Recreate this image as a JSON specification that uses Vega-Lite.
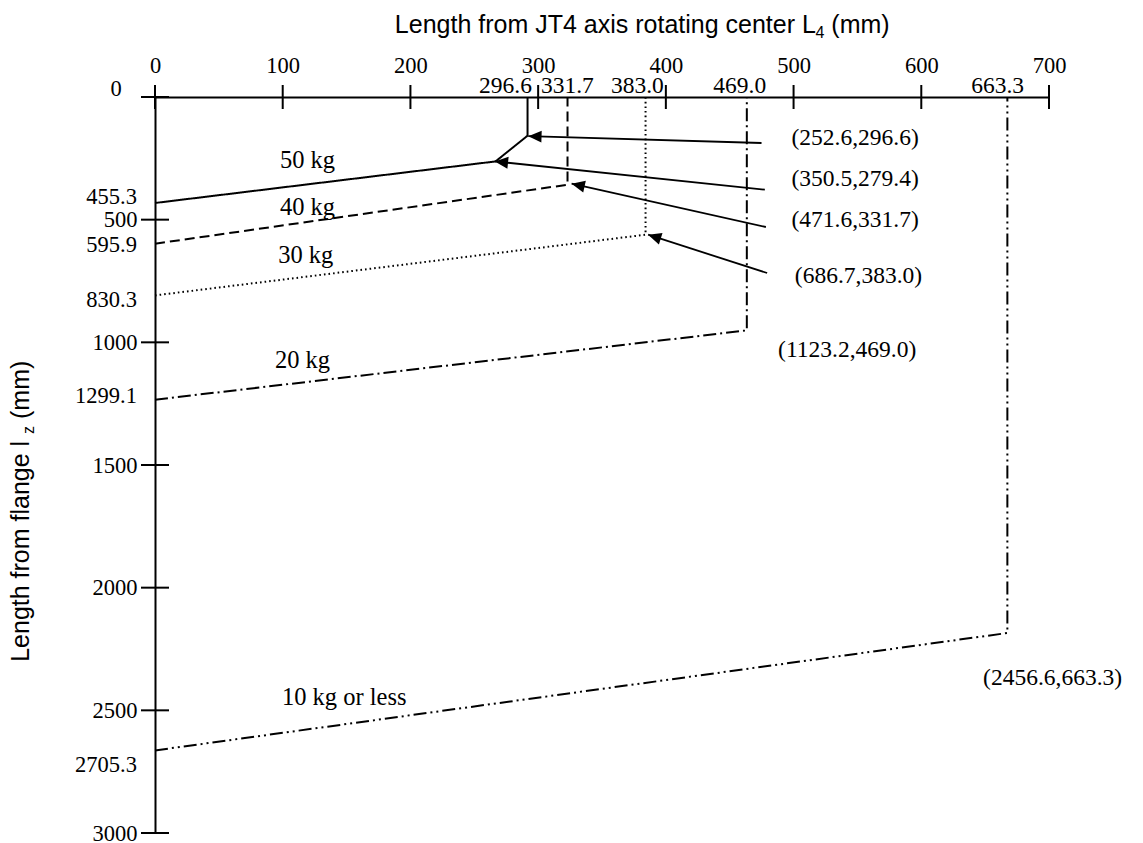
{
  "$schema": "https://vega.github.io/schema/vega-lite/v6.json",
  "width": 894,
  "height": 736,
  "autosize": {"type": "none"},
  "padding": {"left": 155, "top": 97, "right": 94, "bottom": 10},
  "background": "white",
  "config": {"view": {"stroke": null}, "axis": {"grid": false}},
  "datasets": {
    "curves": [
      {"load": "50 kg", "i": 1, "x": 0, "y": 432},
      {"load": "50 kg", "i": 2, "x": 266.7, "y": 262.5},
      {"load": "50 kg", "i": 3, "x": 291.7, "y": 157.7},
      {"load": "50 kg", "i": 4, "x": 291.7, "y": 0},
      {"load": "40 kg", "i": 1, "x": 0, "y": 598},
      {"load": "40 kg", "i": 2, "x": 323, "y": 357.6},
      {"load": "40 kg", "i": 3, "x": 323, "y": 0},
      {"load": "30 kg", "i": 1, "x": 0, "y": 808.7},
      {"load": "30 kg", "i": 2, "x": 384.1, "y": 561.3},
      {"load": "30 kg", "i": 3, "x": 384.1, "y": 0},
      {"load": "20 kg", "i": 1, "x": 0, "y": 1233.9},
      {"load": "20 kg", "i": 2, "x": 463.4, "y": 951.4},
      {"load": "20 kg", "i": 3, "x": 463.4, "y": 0},
      {"load": "10 kg or less", "i": 1, "x": 0, "y": 2663.4},
      {"load": "10 kg or less", "i": 2, "x": 667.4, "y": 2184.8},
      {"load": "10 kg or less", "i": 3, "x": 667.4, "y": 0}
    ],
    "arrows": [
      {"arrow": 1, "i": 1, "x": 474.9, "y": 187.5},
      {"arrow": 1, "i": 2, "x": 292.3, "y": 159.8},
      {"arrow": 2, "i": 1, "x": 477.5, "y": 377.9},
      {"arrow": 2, "i": 2, "x": 266.1, "y": 262.5},
      {"arrow": 3, "i": 1, "x": 478.3, "y": 529.9},
      {"arrow": 3, "i": 2, "x": 326.2, "y": 353.4},
      {"arrow": 4, "i": 1, "x": 479.3, "y": 717.4},
      {"arrow": 4, "i": 2, "x": 386.1, "y": 561.3}
    ],
    "heads": [
      {"x": 292.3, "y": 159.8, "a": 1.7},
      {"x": 266.1, "y": 262.5, "a": 6.0},
      {"x": 326.2, "y": 353.4, "a": 12.6},
      {"x": 386.1, "y": 561.3, "a": 17.8}
    ],
    "xticks": [
      {"x": 0, "y": 0}, {"x": 100, "y": 0}, {"x": 200, "y": 0}, {"x": 300, "y": 0},
      {"x": 400, "y": 0}, {"x": 500, "y": 0}, {"x": 600, "y": 0}, {"x": 700, "y": 0}
    ],
    "yticks": [
      {"x": 0, "y": 0}, {"x": 0, "y": 500}, {"x": 0, "y": 1000}, {"x": 0, "y": 1500},
      {"x": 0, "y": 2000}, {"x": 0, "y": 2500}, {"x": 0, "y": 3000}
    ],
    "topLabels": [
      {"t": "296.6", "x": 274.4, "y": -16.3},
      {"t": "331.7", "x": 322.9, "y": -16.3},
      {"t": "383.0", "x": 377.7, "y": -16.3},
      {"t": "469.0", "x": 457.9, "y": -16.3},
      {"t": "663.3", "x": 659.8, "y": -16.3}
    ],
    "leftLabels": [
      {"t": "0", "x": -26.1, "y": -31.8},
      {"t": "455.3", "x": -14.1, "y": 406.4},
      {"t": "595.9", "x": -14.1, "y": 601.8},
      {"t": "830.3", "x": -14.1, "y": 826},
      {"t": "1299.1", "x": -14.1, "y": 1220.4},
      {"t": "2705.3", "x": -14.1, "y": 2721.6}
    ],
    "kgLabels": [
      {"t": "50 kg", "x": 97.8, "y": 289.4},
      {"t": "40 kg", "x": 97.8, "y": 479.8},
      {"t": "30 kg", "x": 96.5, "y": 676.6},
      {"t": "20 kg", "x": 93.9, "y": 1104.6},
      {"t": "10 kg or less", "x": 99.4, "y": 2477}
    ],
    "coordLabels": [
      {"t": "(252.6,296.6)", "x": 498.4, "y": 197.3},
      {"t": "(350.5,279.4)", "x": 498.4, "y": 364.4},
      {"t": "(471.6,331.7)", "x": 498.4, "y": 531.5},
      {"t": "(686.7,383.0)", "x": 501, "y": 758.2},
      {"t": "(1123.2,469.0)", "x": 487.9, "y": 1058.6},
      {"t": "(2456.6,663.3)", "x": 648.4, "y": 2395.4}
    ],
    "xTitleMain": [
      {"t": "Length from JT4 axis rotating center L", "x": 187.8, "y": -260.9},
      {"t": "(mm)", "x": 529.6, "y": -260.9}
    ],
    "xTitleSub": [
      {"t": "4", "x": 517.2, "y": -239.7}
    ],
    "yTitleMain": [
      {"t": "Length from flange l", "x": -98.4, "y": 2302.3},
      {"t": "(mm)", "x": -98.4, "y": 1312.3}
    ],
    "yTitleSub": [
      {"t": "z", "x": -94.5, "y": 1373.3}
    ]
  },
  "encoding": {
    "x": {
      "field": "x",
      "type": "quantitative",
      "scale": {"domain": [0, 700], "nice": false, "zero": false},
      "axis": {
        "orient": "top",
        "values": [0, 100, 200, 300, 400, 500, 600, 700],
        "format": "d",
        "title": null,
        "ticks": false,
        "tickSize": 0,
        "domainColor": "black",
        "domainWidth": 2,
        "labelFont": "Liberation Serif",
        "labelFontSize": 22.5,
        "labelColor": "black",
        "labelBaseline": "alphabetic",
        "labelPadding": 25,
        "labelFlush": false,
        "labelOverlap": false
      }
    },
    "y": {
      "field": "y",
      "type": "quantitative",
      "scale": {"domain": [0, 3000], "nice": false, "zero": false, "reverse": true},
      "axis": {
        "values": [500, 1000, 1500, 2000, 2500, 3000],
        "format": "d",
        "title": null,
        "ticks": false,
        "tickSize": 0,
        "domainColor": "black",
        "domainWidth": 2,
        "labelFont": "Liberation Serif",
        "labelFontSize": 22.5,
        "labelColor": "black",
        "labelBaseline": "middle",
        "labelPadding": 18,
        "labelFlush": false,
        "labelOverlap": false
      }
    }
  },
  "layer": [
    {
      "data": {"name": "curves"},
      "mark": {"type": "line", "color": "black", "strokeCap": "butt", "strokeJoin": "miter"},
      "encoding": {
        "detail": {"field": "load", "type": "nominal"},
        "order": {"field": "i", "type": "quantitative"},
        "strokeDash": {
          "field": "load",
          "type": "nominal",
          "scale": {
            "domain": ["50 kg", "40 kg", "30 kg", "20 kg", "10 kg or less"],
            "range": [[1, 0], [10, 5], [1.6, 3], [13, 4, 2, 4], [13, 4, 2, 4, 2, 4]]
          },
          "legend": null
        },
        "strokeWidth": {
          "field": "load",
          "type": "nominal",
          "scale": {
            "domain": ["50 kg", "40 kg", "30 kg", "20 kg", "10 kg or less"],
            "range": [2, 2, 1.6, 2, 2]
          },
          "legend": null
        }
      }
    },
    {
      "data": {"name": "arrows"},
      "mark": {"type": "line", "color": "black", "strokeWidth": 1.8, "strokeCap": "butt"},
      "encoding": {
        "detail": {"field": "arrow", "type": "nominal"},
        "order": {"field": "i", "type": "quantitative"}
      }
    },
    {
      "data": {"name": "heads"},
      "mark": {"type": "point", "shape": "M0,0L1,-0.45L1,0.45Z", "filled": true, "color": "black", "opacity": 1, "size": 700, "strokeWidth": 0},
      "encoding": {
        "angle": {"field": "a", "type": "quantitative", "scale": null}
      }
    },
    {
      "data": {"name": "xticks"},
      "mark": {"type": "tick", "orient": "vertical", "size": 24, "thickness": 2, "color": "black", "opacity": 1}
    },
    {
      "data": {"name": "yticks"},
      "mark": {"type": "tick", "orient": "horizontal", "size": 28, "thickness": 2, "color": "black", "opacity": 1}
    },
    {
      "data": {"name": "topLabels"},
      "mark": {"type": "text", "font": "Liberation Serif", "fontSize": 23.5, "color": "black", "align": "center", "baseline": "alphabetic"},
      "encoding": {"text": {"field": "t"}}
    },
    {
      "data": {"name": "leftLabels"},
      "mark": {"type": "text", "font": "Liberation Serif", "fontSize": 22.5, "color": "black", "align": "right", "baseline": "middle"},
      "encoding": {"text": {"field": "t"}}
    },
    {
      "data": {"name": "kgLabels"},
      "mark": {"type": "text", "font": "Liberation Serif", "fontSize": 24.5, "color": "black", "align": "left", "baseline": "alphabetic"},
      "encoding": {"text": {"field": "t"}}
    },
    {
      "data": {"name": "coordLabels"},
      "mark": {"type": "text", "font": "Liberation Serif", "fontSize": 23.5, "color": "black", "align": "left", "baseline": "alphabetic"},
      "encoding": {"text": {"field": "t"}}
    },
    {
      "data": {"name": "xTitleMain"},
      "mark": {"type": "text", "font": "Liberation Sans", "fontSize": 25, "color": "black", "align": "left", "baseline": "alphabetic"},
      "encoding": {"text": {"field": "t"}}
    },
    {
      "data": {"name": "xTitleSub"},
      "mark": {"type": "text", "font": "Liberation Sans", "fontSize": 16, "color": "black", "align": "left", "baseline": "alphabetic"},
      "encoding": {"text": {"field": "t"}}
    },
    {
      "data": {"name": "yTitleMain"},
      "mark": {"type": "text", "font": "Liberation Sans", "fontSize": 25, "color": "black", "align": "left", "baseline": "alphabetic", "angle": 270},
      "encoding": {"text": {"field": "t"}}
    },
    {
      "data": {"name": "yTitleSub"},
      "mark": {"type": "text", "font": "Liberation Sans", "fontSize": 16, "color": "black", "align": "left", "baseline": "alphabetic", "angle": 270},
      "encoding": {"text": {"field": "t"}}
    }
  ]
}
